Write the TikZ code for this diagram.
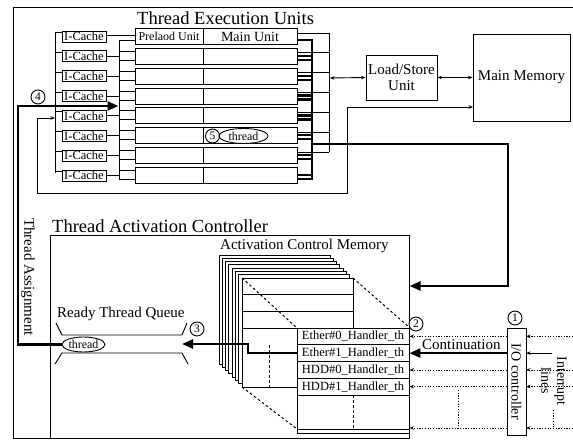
\documentclass[tikz,border=0pt]{standalone}
\usepackage{fontspec}
\setmainfont{Liberation Serif}
\usetikzlibrary{arrows.meta,shapes.geometric}
\newcommand{\fsTitle}{\fontsize{18.5}{20}\selectfont}
\newcommand{\fsLabel}{\fontsize{15}{15.5}\selectfont}
\newcommand{\fsUnit}{\fontsize{12}{14}\selectfont}
\newcommand{\fsMain}{\fontsize{14}{16}\selectfont}
\newcommand{\fsIC}{\fontsize{12.5}{12}\selectfont}
\newcommand{\fsTab}{\fontsize{12.5}{14}\selectfont}
\newcommand{\fsNum}{\fontsize{11.5}{12}\selectfont}
\begin{document}
\begin{tikzpicture}[x=1pt,y=-1pt,
  thinln/.style={line width=0.9pt},
  thickln/.style={line width=2.4pt},
  box/.style={draw,line width=0.9pt,inner sep=0pt},
  cnum/.style={draw,circle,fill=white,line width=0.9pt,inner sep=0pt,minimum size=14pt,font=\fsNum},
  bigtip/.style={-{Triangle[length=11pt,width=9pt]}},
  smtip/.style={-{Stealth[length=4.5pt,width=3.5pt]}},
  dbltip/.style={{Stealth[length=4.5pt,width=3.5pt]}-{Stealth[length=4.5pt,width=3.5pt]}},
  dotln/.style={line width=0.6pt,dash pattern=on 1.2pt off 1.5pt},
  dashln/.style={line width=1pt,dash pattern=on 2.5pt off 2.5pt},
]
\useasboundingbox (0,0) rectangle (573,441);
% outer frame
\draw[thinln] (573,7) -- (13,7) -- (13,438) -- (409,438);
% ---------------- Thread Execution Units
\node[font=\fsTitle,anchor=base west,inner sep=0pt] (teutitle) at (137,25) {Thread Execution Units};
\foreach \i in {1,...,8}{
  \pgfmathsetmacro{\yc}{36.5+19.86*(\i-1)}
  \node[box,minimum width=68pt,minimum height=16pt] (pre\i) at (169,\yc) {};
  \node[box,minimum width=94pt,minimum height=16pt] (main\i) at (250,\yc) {};
  \node[box,minimum width=44pt,minimum height=11pt,font=\fsIC] (ic\i) at (84,\yc) {I-Cache};
  \draw[thinln] (55,{\yc-4}) -- (62,{\yc-4});
  \draw[thinln] (119,{\yc+4}) -- (135,{\yc+4});
  \draw[thickln] (297,{\yc+3.5}) -- (312,{\yc+3.5});
}
\foreach \i in {2,...,8}{
  \pgfmathsetmacro{\yc}{36.5+19.86*(\i-1)}
  \draw[thinln] (ic\i.east) -- (119,\yc);
  \draw[thinln] (119,{\yc-5}) -- (135,{\yc-5});
  \draw[thickln] (297,{\yc-0.5}) -- (312,{\yc-0.5});
}
\foreach \i in {1,...,7}{
  \pgfmathsetmacro{\yc}{36.5+19.86*(\i-1)}
  \draw[thinln] (297,{\yc-3.5}) -- (329,{\yc-3.5});
}
\draw[thinln] (106,35) -- (pre1.west |- 106,35);
\node[font=\fsUnit] (prelabel) at (pre1) {Prelaod Unit};
\node[font=\fsMain] (mainlabel) at (main1) {Main Unit};
% buses
\draw[thinln] (55,33) -- (55,173);
\draw[thinln] (119,40.5) -- (119,179.5);
\draw[thickln] (312,38.8) -- (312,180.2);
\draw[thinln] (329,32.6) -- (329,152.2);
% thread in unit 6
\node[cnum] (c5) at (212.5,136) {5};
\node[draw,ellipse,line width=0.9pt,inner sep=0pt,minimum width=49pt,minimum height=15pt,font=\fsUnit] (th6) at (243.5,136) {thread};
% Load/Store and Main Memory
\node[box,minimum width=71pt,minimum height=45pt,align=center,font=\fsLabel] (ls) at (401.5,77.5) {Load/Store\\Unit};
\node[box,minimum width=97pt,minimum height=87pt,font=\fsLabel] (mm) at (521.5,77.5) {Main Memory};
\coordinate (lsbus) at (330,78);
\draw[thinln,dbltip] (lsbus) -- (ls.west);
\draw[thinln,dbltip] (ls.east) -- (mm.west);
% instruction fetch path
\coordinate (mmin) at (473,107);
\coordinate (icin) at (55,118);
\draw[thinln,dbltip] (mmin) -- (347,107) -- (347,193) -- (37,193) -- (37,118) -- (icin);
% ---------------- Thread Activation Controller
\node[draw,line width=0.9pt,anchor=north west,minimum width=359pt,minimum height=203pt,inner sep=0pt] (tac) at (50,235) {};
\node[font=\fsTitle,anchor=base west,inner sep=0pt] (tactitle) at (52,232) {Thread Activation Controller};
\node[font=\fsLabel,anchor=base west,inner sep=0pt] (acmtitle) at (220,249) {Activation Control Memory};
% stack of pages
\foreach \k in {0,...,7}{
  \pgfmathsetmacro{\px}{219+3.29*\k}
  \pgfmathsetmacro{\py}{255+3.29*\k}
  \draw[thinln,fill=white] (\px,\py) rectangle ++(111,109);
}
\draw[thinln] (242,294.5) -- (353,294.5);
\draw[thinln] (242,311) -- (353,311);
\draw[thinln] (242,328) -- (297,328);
\draw[dashln] (269,345) -- (269,387);
% magnified table
\node[box,fill=white,minimum width=112pt,minimum height=16.75pt,font=\fsTab] (et0) at (353,336.4) {Ether\#0\_Handler\_th};
\node[box,fill=white,minimum width=112pt,minimum height=16.75pt,font=\fsTab] (et1) at (353,353.1) {Ether\#1\_Handler\_th};
\node[box,fill=white,minimum width=112pt,minimum height=16.75pt,font=\fsTab] (hd0) at (353,369.9) {HDD\#0\_Handler\_th};
\node[box,fill=white,minimum width=112pt,minimum height=16.75pt,font=\fsTab] (hd1) at (353,386.6) {HDD\#1\_Handler\_th};
\node[box,fill=white,minimum width=112pt,minimum height=38pt] (tabend) at (353,414) {};
\draw[thinln] (297,429) -- (409,429);
\draw[dashln] (353,395) -- (353,429);
\draw[dashln] (242,278) -- (et0.north west);
\draw[dashln] (353,278) -- (et0.north east);
\draw[dashln] (242,387) -- (297,429);
% ready thread queue
\node[font=\fsLabel,anchor=base west,inner sep=0pt] (rqtitle) at (57,317) {Ready Thread Queue};
\draw[thinln] (56,323) -- (62,335) -- (182,335) -- (187,323);
\draw[thinln] (55,364) -- (62,353) -- (182,353) -- (188,364);
\node[draw,ellipse,line width=0.9pt,inner sep=0pt,minimum width=43pt,minimum height=15pt,font=\fsUnit] (rq) at (83.5,344.5) {thread};
\node[cnum] (c3) at (197,329) {3};
\coordinate (rqin) at (182,344);
\draw[thickln,bigtip] (et1.west) -- (248,353.1) -- (248,344) -- (rqin);
% thread assignment
\coordinate (assignin) at (118.5,106);
\draw[thickln,bigtip] (rq.west) -- (18,344.5) -- (18,106) -- (assignin);
\node[cnum] (c4) at (38,97) {4};
\node[rotate=-90,font=\fsLabel] (ta) at (28,277) {Thread Assignment};
% thread out to activation controller
\coordinate (acmin) at (409.5,286);
\draw[thickln,bigtip] (312,144) -- (508,144) -- (508,286) -- (acmin);
% I/O controller
\node[box,rotate=-90,minimum width=107pt,minimum height=19pt,font=\fsMain] (io) at (516.5,381.5) {I/O controller};
\node[cnum] (c1) at (515,318) {1};
\node[cnum] (c2) at (416,324) {2};
\draw[thickln,bigtip] (507,353.1) -- (et1.east);
\node[font=\fsLabel,anchor=base west,inner sep=0pt] (contlabel) at (422,349.5) {Continuation};
\foreach \yy in {336.4,369.9,386.6,428}{
  \draw[dotln,smtip] (507,\yy) -- (409.5,\yy);
  \draw[dotln,smtip] (573,\yy) -- (526,\yy);
}
\draw[line width=1.2pt,smtip] (552,353.1) -- (526,353.1);
\draw[dotln] (458,390) -- (458,428);
\draw[dotln] (553,410) -- (553,428);
\node[rotate=-90,align=center,font=\fsMain] (intr) at (554,381) {Interrupt\\lines};
\end{tikzpicture}
\end{document}
